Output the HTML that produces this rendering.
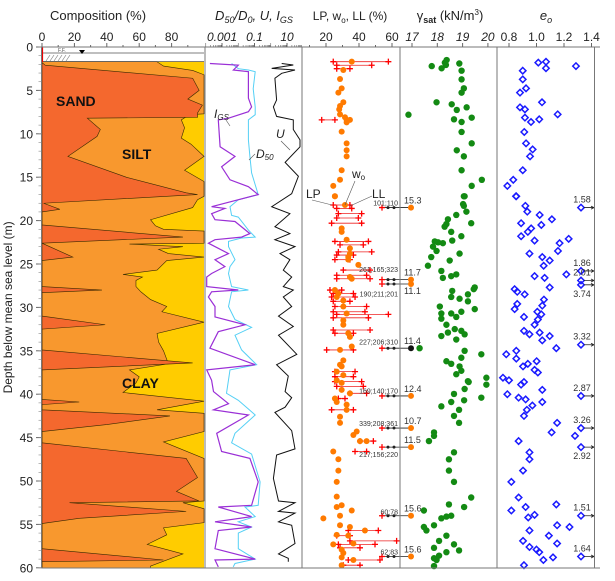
<!DOCTYPE html>
<html><head><meta charset="utf-8"><style>
html,body{margin:0;padding:0;background:#fff;}
svg{display:block;font-family:"Liberation Sans",sans-serif;}
</style></head><body>
<svg id="chart" width="615" height="581" viewBox="0 0 615 581" xmlns="http://www.w3.org/2000/svg">
<g id="comp"></g>
<g id="grain"></g>
<g id="limits"></g>
<g id="gamma"></g>
<g id="void"></g>
<g id="axes"></g>
</svg>
<script>
// ---------- DATA ----------
const depthTicks=[0,5,10,15,20,25,30,35,40,45,50,55,60];
const sandDepth=[1.8,2.1,3.6,5,6,6.7,7.6,8.1,8.2,9.5,10.3,12.6,15,16.8,17.0,18.0,18.7,19.0,20.5,21.9,22.6,24.2,24.6,27.6,28.0,28.3,31.0,32.0,32.5,34.9,36.4,37.2,40.6,40.9,41.2,41.8,42.5,43.5,44.3,45.6,47.4,49.6,51.2,52.3,52.5,53.5,54.3,54.9,57.8,59.1,59.3,60];
const sandPct=[0,2,93,97,90,99,96,96,28,36,34,16,52,89,96,1,11,0,0,87,0,19,0,0,37,0,0,39,0,0,93,0,0,23,0,0,79,40,0,0,89,96,83,97,17,89,23,0,0,75,0,0];
const finesDepth=[1.7,2.2,2.7,3.2,7.7,7.8,8.4,9.3,10.5,11.2,12.6,14.2,15.5,17.2,17.6,18.5,19.9,20.6,21.0,21.2,22.6,22.7,23.0,23.3,23.8,24.2,24.6,25.7,26.2,26.5,26.9,27.6,28.2,29.1,29.9,30.5,31.7,33.0,34.0,35.0,36.5,37.2,38.0,38.7,39.8,40.8,41.8,42.2,44.3,45.5,47.4,52.3,52.5,53.2,54.8,55.4,56.2,57.3,58.4,59.8,60];
const sandSiltPct=[71,75,93,100,100,91,86,88,86,92,100,88,100,100,96,93,67,70,75,100,100,54,87,72,78,100,77,71,50,62,58,58,61,67,77,74,100,71,72,75,78,54,60,58,50,100,71,100,100,75,100,100,87,100,100,75,77,65,87,67,67];

const igsDepth=[1.9,2.1,2.65,2.84,5.9,6.9,7.45,8.2,8.4,11.5,12.6,13.8,15.3,16.1,17.0,18.4,18.6,19.2,19.9,20.1,21.5,21.9,22.2,22.6,23.8,24.5,25.3,26.1,26.5,27.6,28.0,28.2,28.8,29.9,31.1,32.0,32.8,34.7,36.6,37.2,38.4,39.7,41.1,41.8,42.4,44.5,46.6,47.4,50.1,52.8,53.0,54.1,54.7,55.3,55.7,57.8,59.0,59.1,59.9];
const igsVal=[1.8e-4,0.01,0.005,0.042,0.042,0.066,0.042,0.0025,5.9e-4,7.6e-4,0.0063,9.5e-4,0.0031,0.042,0.17,2.3e-4,0.0015,2.3e-4,3.7e-4,0.0063,0.052,0.016,3.7e-4,1.45e-4,0.0025,3.7e-4,0.0015,2.3e-4,1.15e-4,1.15e-4,0.01,2.3e-4,1.45e-4,3.7e-4,3.7e-4,0.026,5.9e-4,1.8e-4,0.11,1.15e-4,2.3e-4,3e-4,0.0025,3e-4,0.042,4.7e-4,9.5e-4,0.052,0.17,0.066,5.9e-4,0.066,3.7e-4,0.066,5.9e-4,3.7e-4,0.11,3.7e-4,5.9e-4];
const d50Depth=[1.9,2.5,2.65,2.84,4.8,6.9,7.8,8.4,10.7,12.6,14.5,17.0,17.6,18.4,19.4,19.6,21.1,21.9,22.0,22.4,23.0,24.5,25.3,26.1,27.6,28.0,28.2,29.9,31.4,32.3,33.2,34.9,36.6,37.2,39.9,40.7,41.7,42.4,44.5,45.6,46.9,50.1,52.8,53.0,54.1,54.7,55.3,56.0,57.8,59.0,59.5,59.9];
const d50Val=[0.0039,0.01,0.042,0.11,0.083,0.11,0.11,0.042,0.042,0.052,0.066,0.17,0.01,0.0031,0.0039,0.01,0.042,0.11,0.016,0.0025,0.0025,0.0063,0.0031,0.0025,0.0039,0.042,0.0039,0.0025,0.0063,0.066,0.0063,0.016,0.135,0.0031,0.0019,0.01,0.042,0.11,0.0063,0.0039,0.066,0.22,0.17,0.026,0.11,0.01,0.066,0.01,0.01,0.11,0.0063,0.0049];
const uDepth=[1.9,2.07,2.46,2.65,3.03,3.6,6.1,6.9,8.0,8.4,9.5,10.7,11.5,13.3,14.9,16.9,18.4,19.2,20.7,21.5,22.2,23.0,23.8,24.5,25.7,26.5,27.6,28.0,28.8,29.9,29.9,31.0,32.2,33.2,35.4,36.6,37.9,39.7,40.4,41.5,42.1,44.2,46.3,47.0,49.7,52.3,52.5,53.5,53.7,54.7,55.1,57.2,58.4,58.9,59.3];
const uVal=[4.7,24.5,1.15,31,4.7,1.8,2.3,1.45,2.3,24.5,24.5,63,63,7.6,50,19.5,1.15,15,1.8,15,1.8,31,3.7,15,5.9,19.5,5.9,24.5,5.9,19.5,19.5,3,24.5,3,40,2.3,12,7.6,19.5,7.6,1.8,19.5,31,2.3,1.45,3,31,3,31,3,19.5,31,3,12,12];

const woDepth=[1.69,2.65,3.69,4.76,5.26,6.37,6.8,7.18,7.76,8.1,8.4,8.4,8.68,9.75,11.1,11.9,12.6,14.2,15.3,16.0,17.2,17.2,18.2,20.9,21.3,22.2,23.2,23.8,24.2,24.5,25.1,26.5,26.7,28.0,28.4,28.8,29.2,29.9,30.7,31.5,32.0,32.98,33.4,34.5,34.9,36.1,36.6,36.8,37.4,37.8,38.4,38.7,39.5,39.9,40.5,40.9,41.2,41.8,42.6,43.3,44.3,44.7,45.4,45.4,46.6,47.5,48.8,50.1,51.8,52.8,53.0,53.4,54.0,54.3,55.1,55.3,55.7,56.2,56.3,57.3,57.2,57.9,58.3,58.8,59.1,59.7];
const woVal=[35.6,30.5,28.5,29.5,27.5,30.5,28.5,28,28.5,31.5,32.5,34.5,32.5,29.5,32.5,32.5,32.5,29.5,28.5,24.4,25.4,25.4,31.5,29.5,29.5,32.5,34.5,34.5,33.5,33.5,39.6,34.5,35.6,25.4,27.5,26.5,30.5,30.5,32.5,30.5,30.5,33.5,34.5,35.6,28.5,30.5,28.5,29.5,26.5,30.5,26.5,29.5,29.5,34.5,25.4,26.5,32.5,32.5,28.5,28.5,38.6,36.6,44.6,40.6,24.4,27.5,27.5,26.5,26.5,29.5,26.5,35.6,28.5,18.4,28.5,34.5,43.6,26.5,33.5,24.4,36.6,29.5,30.5,29.5,36.6,29.5];
const limDepth=[1.69,2.1,2.5,8.4,18.2,18.6,19.2,19.7,20.3,22.4,22.8,23.6,23.97,24.5,25.7,26.3,26.7,28.0,28.4,28.8,29.3,29.9,30.5,30.8,31.2,32.6,32.98,34.9,37.4,37.98,38.55,39.1,39.9,40.5,41.8,45.4,46.6,55.7,56.3,56.9,57.3,57.7,59.1,59.7];
const lpVal=[24.4,26.5,26.5,17.4,24.4,26.5,27.5,26.5,23.4,25.4,28.5,27.5,26.5,25.4,30.5,26.5,26.5,22.4,24.4,23.4,24.4,25.4,24.4,26.5,24.4,24.4,25.4,20.4,25.4,25.4,25.4,26.5,34.5,27.5,23.4,40.6,37.6,33.5,26.5,34.5,27.5,28.5,33.5,30.5];
const llVal=[57.8,47.7,34.5,25.4,34.5,35.6,41.6,39.6,41.6,45.7,42.6,47.7,36.6,34.5,46.7,44.6,46.7,29.5,36.6,37.6,34.5,44.6,43.6,57.8,45.7,46.7,36.6,36.6,37.6,36.6,41.6,42.6,44.6,31.5,36.6,48.7,44.6,51.7,34.5,62.8,49.7,40.6,52.7,40.6];
const outDepth=[18.5,26.8,27.3,34.7,40.2,43.9,46.1,54.0,58.7];
const outWo=["15.3","11.7","11.1","11.4","12.4","10.7","11.5","15.6","15.6"];
const outText=["101;110","261;165;323","190;211;201","227;206;310","169;140;170","339;208;361","217;156;220","60;78","62;83"];
const outTextDepth=[17.9,25.6,28.4,33.9,39.6,43.3,46.9,53.5,58.1];

const gDepth=[1.5,1.8,2.07,2.45,2.2,1.9,2.73,3.73,4.76,5.26,6.37,6.6,7.25,6.95,7.8,8.33,8.64,8.14,9.79,11.1,11.9,12.6,14.2,15.3,16.0,17.2,17.2,18.1,18.3,18.97,19.35,19.85,20.4,20.7,20.3,21.3,21.8,22.4,22.5,22.6,22.3,23.0,23.5,23.8,24.2,24.6,25.2,25.8,26.2,26.4,26.6,27.7,27.9,28.1,28.5,28.8,29.0,29.3,29.9,30.5,30.7,30.7,31.1,31.3,30.2,32.0,32.5,32.7,32.9,33.1,33.3,33.7,34.7,35.0,35.4,35.8,36.2,36.5,36.8,37.3,37.7,38.1,38.5,38.6,38.9,39.4,39.97,40.4,40.7,40.9,41.4,41.8,42.5,43.3,44.4,44.8,45.4,46.7,47.5,48.8,50.1,51.9,52.7,53.0,53.4,54.0,54.1,54.3,55.3,55.7,55.1,56.3,56.9,57.3,57.7,58.0,58.2,58.6,58.9,59.1,59.8];
const gVal=[18.37,18.30,18.34,18.17,17.78,18.87,18.96,18.96,19.05,18.96,17.97,18.57,18.77,19.16,16.86,18.66,18.96,19.36,18.96,19.36,18.77,19.05,18.96,19.76,19.36,19.05,19.08,19.02,19.05,19.15,18.75,18.42,18.36,18.29,19.34,18.55,18.95,17.9,18.03,18.22,18.59,17.83,17.97,18.88,17.76,18.49,17.63,18.16,18.75,18.55,18.22,19.48,19.44,18.59,19.21,18.55,18.88,19.21,18.1,18.95,18.55,18.16,18.75,18.16,19.48,18.36,18.69,18.95,18.42,19.08,18.16,18.75,17.3,19.08,19.74,18.95,18.36,18.55,18.88,18.95,18.75,19.94,19.21,19.24,19.94,19.08,18.66,19.74,19.06,18.55,18.16,18.86,18.66,18.86,17.87,17.87,17.67,18.66,18.46,18.46,18.66,19.34,18.46,19.06,17.47,18.55,18.36,18.16,17.47,17.57,17.87,18.36,18.07,18.66,17.87,18.86,18.36,18.07,17.87,17.97,17.87];

const eDepth=[1.8,1.7,2.45,2.2,2.73,3.73,4.76,5.26,6.37,6.95,7.18,7.76,8.14,8.33,8.64,9.79,11.1,11.8,12.6,14.2,15.3,16.0,17.2,17.2,18.3,18.97,19.35,19.85,20.3,20.9,21.3,20.5,21.8,22.3,22.6,22.1,23.8,23.5,24.2,24.6,25.2,26.2,26.4,26.6,27.7,27.9,28.2,28.5,29.1,29.6,29.8,30.2,30.5,30.8,31.1,31.4,32.0,32.7,33.1,32.9,33.3,33.8,34.7,35.4,35.0,35.9,36.2,36.5,36.8,37.2,37.5,38.1,38.4,38.9,38.6,39.5,40.0,40.4,40.6,40.9,41.3,41.8,42.5,43.3,44.4,44.8,45.4,46.7,47.5,48.8,50.1,51.9,53.0,52.7,53.4,54.2,53.9,55.1,55.3,55.7,56.3,56.9,57.2,57.6,57.9,58.2,58.8,59.1,59.7];
const eVal=[1.013,1.069,1.069,1.287,0.90,0.90,0.924,0.88,1.04,0.88,0.916,1.154,0.916,1.02,0.96,0.911,0.924,0.972,0.953,0.90,0.831,0.788,0.851,0.853,0.919,0.933,1.023,1.112,0.888,0.961,0.937,1.035,0.888,0.986,1.168,1.234,0.949,1.156,1.042,1.096,1.052,1.217,0.986,1.059,1.096,0.841,0.86,0.914,1.054,0.86,1.042,0.841,1.006,1.035,0.909,1.01,0.986,0.909,0.949,1.023,1.096,1.042,1.144,0.78,0.853,0.853,1.001,0.937,0.902,0.986,1.01,0.756,0.80,0.888,0.909,1.042,0.788,0.87,0.921,1.042,0.97,0.93,0.909,1.15,1.11,1.28,0.87,0.949,0.949,0.902,0.817,0.87,0.921,1.144,0.817,0.94,0.986,1.15,1.24,0.949,1.09,0.902,1.15,0.949,1.0,1.02,1.12,1.05,0.909,0.88];
const eOutDepth=[18.5,25.8,26.9,27.4,34.3,40.2,43.9,46.1,54.0,58.7];
const eOutText=["1.58","1.86","2.01","3.74","3.32","2.87","3.26","2.92","1.51","1.64"];
const eOutBelow=[0,0,0,1,0,0,0,1,0,0];

const compTicks=[0,20,40,60,80];
const grainTicks=["0.001","0.1","10"];
const limitTicks=[20,40,60];
const gammaTicks=[17,18,19,20];
const eTicks=["0.8","1.0","1.2","1.4"];

// ---------- SCALES ----------
const NS="http://www.w3.org/2000/svg";
const Y0=47,PY=8.68,YB=568;
const y=d=>Y0+d*PY;
const xComp=p=>42+p*1.62;
const xGrain=v=>222+(Math.log10(v)+3)*16.25;
const xLim=v=>293+v*1.65;
const xGam=v=>412+(v-17)*25.3;
const xE=v=>509+(v-0.8)*137.5;
function mk(tag,attrs,parent,text){const e=document.createElementNS(NS,tag);for(const k in attrs)e.setAttribute(k,attrs[k]);if(text!==undefined)e.textContent=text;parent.appendChild(e);return e;}
const comp=document.getElementById('comp'),grain=document.getElementById('grain'),lim=document.getElementById('limits'),gam=document.getElementById('gamma'),vd=document.getElementById('void'),ax=document.getElementById('axes');

// composition
{
let el=mk('rect',{x:42,y:y(1.7),width:162,height:YB-y(1.7),fill:'#ffcc00'},comp);

let pts=[[42,y(finesDepth[0])]];finesDepth.forEach((d,i)=>pts.push([xComp(sandSiltPct[i]),y(d)]));pts.push([42,y(60)]);
el=mk('polygon',{points:pts.map(p=>p.join(',')).join(' '),fill:'#f8982e',stroke:'#3a2a00','stroke-width':0.6},comp);

pts=[[42,y(sandDepth[0])]];sandDepth.forEach((d,i)=>pts.push([xComp(sandPct[i]),y(d)]));pts.push([42,y(60)]);
el=mk('polygon',{points:pts.map(p=>p.join(',')).join(' '),fill:'#f4682e',stroke:'#3a2a00','stroke-width':0.6},comp);

mk('line',{x1:42,y1:53,x2:204,y2:53,stroke:'#555','stroke-width':0.8},comp);
mk('line',{x1:42,y1:61.5,x2:204,y2:61.5,stroke:'#555','stroke-width':0.8},comp);
mk('line',{x1:42.5,y1:47,x2:42.5,y2:62,stroke:'#e00','stroke-width':1.2},comp);
for(let i=0;i<6;i++)mk('line',{x1:46+i*4,y1:61,x2:50+i*4,y2:55,stroke:'#777','stroke-width':0.6},comp);
mk('text',{x:58,y:52,'font-size':5,fill:'#555'},comp,'F.F.');
el=mk('polygon',{points:'79,50 85,50 82,54',fill:'#000'},comp);

[['SAND',56,106],['SILT',122,159],['CLAY',122,388]].forEach(t=>{el=mk('text',{x:t[1],y:t[2],'font-size':14,'font-weight':'bold',fill:'#111'},comp,t[0]);});
}
// grain
function poly(depths,vals,fx,color,w,parent,name){const p=depths.map((d,i)=>fx(vals[i]).toFixed(1)+','+y(d).toFixed(1)).join(' ');const e=mk('polyline',{points:p,fill:'none',stroke:color,'stroke-width':w},parent);}
poly(d50Depth,d50Val,xGrain,'#55d0f5',1,grain,'d50-line');
poly(igsDepth,igsVal,xGrain,'#9a2fd6',1.2,grain,'igs-line');
poly(uDepth,uVal,xGrain,'#111',1,grain,'u-line');
{
let t=mk('text',{x:214,y:118,'font-size':12,'font-style':'italic',fill:'#222'},grain,'I');mk('tspan',{'font-size':8,dy:2},t,'GS');

mk('line',{x1:226,y1:120,x2:230,y2:126,stroke:'#555','stroke-width':0.6},grain);
t=mk('text',{x:256,y:158,'font-size':12,'font-style':'italic',fill:'#222'},grain,'D');mk('tspan',{'font-size':8,dy:2},t,'50');

mk('line',{x1:255,y1:154,x2:249,y2:160,stroke:'#555','stroke-width':0.6},grain);
t=mk('text',{x:276,y:138,'font-size':12,'font-style':'italic',fill:'#222'},grain,'U');

mk('line',{x1:281,y1:141,x2:290,y2:150,stroke:'#555','stroke-width':0.6},grain);
}
// limits
function cross(cx,cy,parent,name){const g=mk('path',{d:`M${cx-3},${cy}h6M${cx},${cy-3}v6`,stroke:'#ff0000','stroke-width':1.3,fill:'none'},parent);}
limDepth.forEach((d,i)=>{const l=mk('line',{x1:xLim(lpVal[i]),y1:y(d),x2:xLim(llVal[i]),y2:y(d),stroke:'#ee2222','stroke-width':0.8},lim);cross(xLim(lpVal[i]),y(d),lim,'lp-marker');cross(xLim(llVal[i]),y(d),lim,'ll-marker');});
woDepth.forEach((d,i)=>{const c=mk('circle',{cx:xLim(woVal[i]),cy:y(d),r:3,fill:'#ff7a00'},lim);});
outDepth.forEach((d,i)=>{
 const yy=y(d);
 const l=mk('line',{x1:382,y1:yy,x2:408,y2:yy,stroke:'#222','stroke-width':0.8},lim);
 cross(382,yy,lim,'outlier-lp');
 mk('circle',{cx:388,cy:yy,r:1.5,fill:'#222'},lim);mk('circle',{cx:394,cy:yy,r:1.5,fill:'#222'},lim);
 const c=mk('circle',{cx:411,cy:yy,r:3,fill:i==3?'#111':'#ff7a00'},lim);
 let t=mk('text',{x:404,y:yy-(i==2?-10:4),'font-size':9,fill:'#333'},lim,outWo[i]);
 t=mk('text',{x:398,y:y(outTextDepth[i])+3,'font-size':7,fill:'#333','text-anchor':'end'},lim,outText[i]);
});
{
let t=mk('text',{x:306,y:198,'font-size':12,fill:'#222'},lim,'LP');
t=mk('text',{x:352,y:178,'font-size':12,fill:'#222'},lim,'w');mk('tspan',{'font-size':8,dy:2},t,'o');
t=mk('text',{x:372,y:198,'font-size':12,fill:'#222'},lim,'LL');
mk('path',{d:'M312,200 L332,205 M355,181 L345,205 M372,196 L350,206',stroke:'#555','stroke-width':0.6,fill:'none'},lim);
}
// gamma
gDepth.forEach((d,i)=>{const c=mk('circle',{cx:xGam(gVal[i]),cy:y(d),r:3.2,fill:'#138a13'},gam);});
// void ratio
function diamond(cx,cy,parent,name){const e=mk('path',{d:`M${cx},${cy-3.2}L${cx+3.2},${cy}L${cx},${cy+3.2}L${cx-3.2},${cy}Z`,fill:'none',stroke:'#1a1aff','stroke-width':1.5},parent);}
eDepth.forEach((d,i)=>diamond(xE(eVal[i]),y(d),vd,'e0-point'));
eOutDepth.forEach((d,i)=>{const yy=y(d);diamond(581,yy,vd,'e0-outlier');const l=mk('path',{d:`M584,${yy}H594M591,${yy-1.5}L594,${yy}L591,${yy+1.5}`,stroke:'#222','stroke-width':0.8,fill:'none'},vd);
 const t=mk('text',{x:582,y:eOutBelow[i]?yy+12:yy-5,'font-size':9,fill:'#333','text-anchor':'middle'},vd,eOutText[i]);});

// axes & frames
{
const bord=[[41.5,47,41.5,YB],[205,47,205,YB],[302,47,302,YB],[400,47,400,YB],[497,47,497,YB],[594.5,47,594.5,YB],[41.5,47,600,47],[41.5,YB,600,YB]];
bord.forEach(b=>{const l=mk('line',{x1:b[0],y1:b[1],x2:b[2],y2:b[3],stroke:'#777','stroke-width':1},ax);});
depthTicks.forEach(d=>{mk('line',{x1:36,y1:y(d),x2:41.5,y2:y(d),stroke:'#666'},ax);const t=mk('text',{x:33,y:y(d)+4.5,'font-size':12,'text-anchor':'end',fill:'#222'},ax,String(d));});
for(let d=0;d<=60;d++)mk('line',{x1:38.5,y1:y(d),x2:41.5,y2:y(d),stroke:'#888','stroke-width':0.6},ax);
let t=mk('text',{x:0,y:0,'font-size':12,'text-anchor':'middle',fill:'#222',transform:`translate(12,${y(30)}) rotate(-90)`},ax,'Depth below mean sea level (m)');
function topTick(x,lab,italic){mk('line',{x1:x,y1:43,x2:x,y2:47,stroke:'#666'},ax);const e=mk('text',{x:x,y:41,'font-size':12,'text-anchor':'middle',fill:'#222','font-style':italic?'italic':'normal'},ax,lab);}
compTicks.forEach(v=>topTick(xComp(v),String(v)));
for(let v=10;v<100;v+=20)mk('line',{x1:xComp(v),y1:45,x2:xComp(v),y2:47,stroke:'#666'},ax);
grainTicks.forEach(v=>topTick(xGrain(+v),v,true));
for(let e=-4;e<=1;e++)for(let m=1;m<10;m++){const x=xGrain(m*Math.pow(10,e));if(x>205&&x<302)mk('line',{x1:x,y1:m==1?43:45,x2:x,y2:47,stroke:'#666','stroke-width':0.6},ax);}
limitTicks.forEach(v=>topTick(xLim(v),String(v)));
for(let v=10;v<=60;v+=10)mk('line',{x1:xLim(v),y1:45,x2:xLim(v),y2:47,stroke:'#666'},ax);
gammaTicks.forEach(v=>topTick(xGam(v),String(v),true));
eTicks.forEach(v=>topTick(xE(+v),v));
const titles=[['Composition (%)',100,''],['',255,''],['',345,''],['',450,''],['',548,'']];
t=mk('text',{x:98,y:20,'font-size':13,'text-anchor':'middle',fill:'#222'},ax,'Composition (%)');
t=mk('text',{x:254,y:20,'font-size':13,'text-anchor':'middle','font-style':'italic',fill:'#222'},ax);
mk('tspan',{},t,'D');mk('tspan',{'font-size':9,dy:3},t,'50');mk('tspan',{dy:-3},t,'/D');mk('tspan',{'font-size':9,dy:3},t,'0');mk('tspan',{dy:-3},t,', U, I');mk('tspan',{'font-size':9,dy:3},t,'GS');

t=mk('text',{x:350,y:20,'font-size':12,'text-anchor':'middle',fill:'#222'},ax);
mk('tspan',{},t,'LP, w');mk('tspan',{'font-size':8,dy:3},t,'o');mk('tspan',{dy:-3},t,', LL (%)');

t=mk('text',{x:450,y:20,'font-size':13,'text-anchor':'middle',fill:'#222'},ax);
mk('tspan',{},t,'γ');mk('tspan',{'font-size':9,dy:3,'font-weight':'bold'},t,'sat');mk('tspan',{dy:-3},t,'  (kN/m');mk('tspan',{'font-size':8,dy:-5},t,'3');mk('tspan',{dy:5},t,')');

t=mk('text',{x:546,y:20,'font-size':13,'text-anchor':'middle','font-style':'italic',fill:'#222'},ax);
mk('tspan',{},t,'e');mk('tspan',{'font-size':9,dy:3},t,'o');

}
</script>
</body></html>
